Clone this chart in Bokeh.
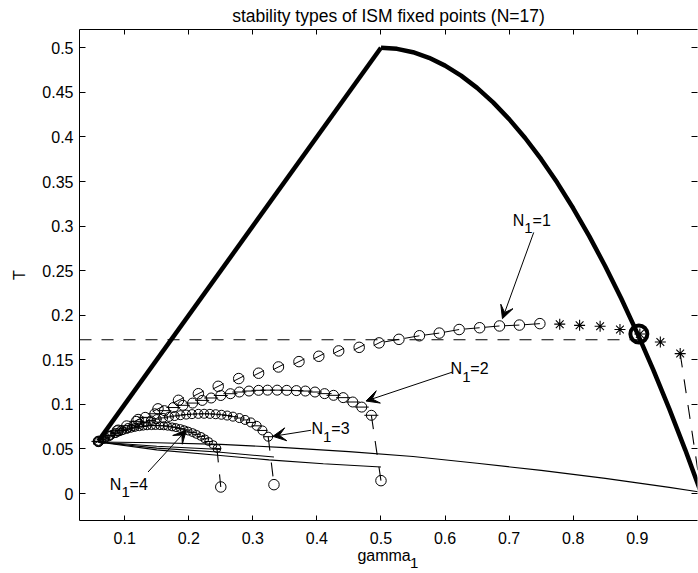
import math
from bokeh.plotting import figure
from bokeh.models import Range1d, LinearAxis, FixedTicker, Label, Arrow, VeeHead
from bokeh.embed import file_html
from bokeh.resources import INLINE

FONT = "Liberation Sans"

# ---------------- data ----------------
x_ticks = [0.1, 0.2, 0.3, 0.4, 0.5, 0.6, 0.7, 0.8, 0.9, 1.0]
x_tick_labels = ["0.1", "0.2", "0.3", "0.4", "0.5", "0.6", "0.7", "0.8", "0.9", "1"]
y_ticks = [0.0, 0.05, 0.1, 0.15, 0.2, 0.25, 0.3, 0.35, 0.4, 0.45, 0.5]
y_tick_labels = ["0", "0.05", "0.1", "0.15", "0.2", "0.25", "0.3", "0.35", "0.4", "0.45", "0.5"]

# stability boundary (thick)
bound1_g = [0.0588, 0.5]
bound1_T = [0.0588, 0.5]
bound2_g = [0.5, 0.525, 0.55, 0.575, 0.6, 0.625, 0.65, 0.675, 0.7, 0.725, 0.75,
            0.775, 0.8, 0.825, 0.85, 0.875, 0.9, 0.925, 0.95, 0.975, 1.0]
bound2_T = [0.5, 0.4988, 0.495, 0.4888, 0.48, 0.4688, 0.455, 0.4388, 0.42, 0.3988, 0.375,
            0.3488, 0.32, 0.2888, 0.255, 0.2188, 0.18, 0.1388, 0.095, 0.0488, 0.0]

# N1 = 1 branch: circles then stars
n1_g = [0.059, 0.090, 0.121, 0.152, 0.184, 0.215, 0.246, 0.278, 0.309, 0.340, 0.372, 0.403,
        0.434, 0.466, 0.497, 0.528, 0.560, 0.591, 0.622, 0.654, 0.685, 0.716, 0.748]
n1_T = [0.0585, 0.071, 0.083, 0.095, 0.1046, 0.112, 0.1203, 0.129, 0.135, 0.142, 0.148, 0.154,
        0.160, 0.164, 0.169, 0.173, 0.177, 0.180, 0.184, 0.186, 0.188, 0.189, 0.1906]
star_g = [0.779, 0.810, 0.842, 0.873, 0.904, 0.936, 0.967]
star_T = [0.190, 0.1887, 0.1876, 0.184, 0.179, 0.170, 0.157]

# N1 = 2 branch
n2_g = [0.059, 0.074, 0.088, 0.103, 0.118, 0.132, 0.147, 0.162, 0.176, 0.191, 0.206, 0.221,
        0.235, 0.250, 0.265, 0.279, 0.294, 0.309, 0.323, 0.338, 0.353, 0.368, 0.382, 0.397,
        0.412, 0.426, 0.441, 0.456, 0.470, 0.485]
n2_T = [0.0585, 0.0645, 0.0705, 0.076, 0.081, 0.0855, 0.0895, 0.093, 0.0965, 0.099, 0.1015, 0.1045,
        0.1072, 0.110, 0.112, 0.1139, 0.115, 0.1158, 0.1160, 0.1160, 0.1158, 0.1155, 0.115, 0.1139,
        0.1121, 0.1102, 0.1076, 0.1027, 0.097, 0.0878]

# N1 = 3 branch
n3_g = [0.059, 0.068, 0.077, 0.086, 0.095, 0.105, 0.114, 0.123, 0.132, 0.141, 0.150, 0.160,
        0.169, 0.178, 0.187, 0.196, 0.205, 0.215, 0.224, 0.233, 0.242, 0.251, 0.260, 0.269,
        0.279, 0.288, 0.297, 0.306, 0.315, 0.324]
n3_T = [0.0585, 0.0615, 0.065, 0.068, 0.071, 0.0735, 0.076, 0.0782, 0.0802, 0.082, 0.0835, 0.0849,
        0.086, 0.087, 0.0879, 0.0886, 0.0891, 0.0894, 0.0895, 0.0894, 0.089, 0.0884, 0.0875, 0.0863,
        0.0847, 0.0826, 0.0798, 0.076, 0.0708, 0.0638]

# N1 = 4 branch
n4_g = [0.059, 0.065, 0.071, 0.078, 0.084, 0.091, 0.097, 0.103, 0.110, 0.116, 0.123, 0.129,
        0.135, 0.142, 0.148, 0.155, 0.161, 0.167, 0.174, 0.180, 0.187, 0.193, 0.199, 0.206,
        0.212, 0.219, 0.225, 0.231, 0.238, 0.244]
n4_T = [0.0585, 0.0605, 0.063, 0.0652, 0.0672, 0.069, 0.0706, 0.072, 0.0732, 0.0742, 0.075, 0.0756,
        0.076, 0.0762, 0.0763, 0.0762, 0.076, 0.0755, 0.0748, 0.074, 0.0729, 0.0716, 0.0701, 0.0684,
        0.0664, 0.0641, 0.0614, 0.0584, 0.0549, 0.0506]

# isolated fixed points at the bottom (N1 = 4, 3, 2) and end point of N1 = 1
bottom_g = [0.25, 0.333, 0.5]
bottom_T = [0.0074, 0.010, 0.0145]
end1_g = 1.0
end1_T = 0.0

# thin solid branches
line1_g = [0.0588, 0.15, 0.25, 0.35, 0.45, 0.55, 0.65, 0.75, 0.85, 0.95, 1.0]
line1_T = [0.0578, 0.057, 0.0552, 0.0515, 0.047, 0.0415, 0.034, 0.026, 0.017, 0.007, 0.0015]
line2_g = [0.0588, 0.15, 0.245, 0.325, 0.41, 0.5]
line2_T = [0.0578, 0.049, 0.043, 0.0378, 0.0335, 0.0298]
line3_g = [0.0588, 0.15, 0.245, 0.333]
line3_T = [0.0578, 0.051, 0.0466, 0.041]
line4_g = [0.0588, 0.15, 0.25]
line4_T = [0.0578, 0.053, 0.0495]

# critical temperature and critical point
crit_T = 0.1726
crit_g = 0.9025
crit_pt_T = 0.179

# annotations
label_num = ["1", "2", "3", "4"]
label_g = [0.7057, 0.6086, 0.3916, 0.0768]
label_T = [0.3064, 0.1401, 0.0729, 0.0104]
arrow_start_g = [0.7384, 0.6117, 0.3909, 0.1365]
arrow_start_T = [0.2929, 0.1363, 0.0710, 0.0242]
arrow_end_g = [0.6896, 0.4766, 0.3313, 0.1962]
arrow_end_T = [0.1962, 0.1038, 0.0642, 0.0710]

# ---------------- figure ----------------
X0, X1 = 0.0295, 0.9940
Y0, Y1 = -0.0302, 0.5205
p = figure(width=698, height=573, output_backend="svg", toolbar_location=None,
           x_range=Range1d(X0, X1), y_range=Range1d(Y0, Y1),
           x_axis_location=None, y_axis_location=None,
           min_border_left=78, min_border_right=1, min_border_top=29, min_border_bottom=53)
p.grid.visible = False
p.outline_line_color = None
p.background_fill_color = "white"
p.border_fill_color = "white"

p.title.text = "stability types of ISM fixed points (N=17)"
p.title.align = "center"
p.title.offset = 2
p.title.standoff = 7
p.title.text_font = FONT
p.title.text_font_size = "17.5px"
p.title.text_font_style = "normal"
p.title.text_color = "black"

def style_axis(ax, show_labels, tick_len):
    ax.major_tick_in = tick_len
    ax.major_tick_out = 0
    ax.minor_tick_line_color = None
    ax.major_tick_line_color = "black"
    ax.axis_line_color = "black"
    ax.major_label_text_font = FONT
    ax.major_label_text_color = "black"
    if show_labels:
        ax.major_label_text_font_size = "16px"
    else:
        ax.major_label_text_font_size = "0px"
        ax.major_label_standoff = 0

bottom = LinearAxis(ticker=FixedTicker(ticks=x_ticks),
                    major_label_overrides=dict(zip(x_ticks, x_tick_labels)),
                    axis_label="gamma\u00a0\u00a0")
style_axis(bottom, True, 5)
bottom.major_label_standoff = 11
bottom.axis_label_standoff = 0
bottom.axis_label_text_font = FONT
bottom.axis_label_text_font_size = "16px"
bottom.axis_label_text_font_style = "normal"
bottom.axis_label_text_color = "black"
p.add_layout(bottom, "below")

left = LinearAxis(ticker=FixedTicker(ticks=y_ticks),
                  major_label_overrides=dict(zip(y_ticks, y_tick_labels)),
                  axis_label="T")
style_axis(left, True, 6)
left.major_label_standoff = 6
left.axis_label_standoff = 11
left.axis_label_text_font = FONT
left.axis_label_text_font_size = "16px"
left.axis_label_text_font_style = "normal"
left.axis_label_text_color = "black"
p.add_layout(left, "left")

top = LinearAxis(ticker=FixedTicker(ticks=x_ticks),
                 major_label_overrides={t: "" for t in x_ticks})
style_axis(top, False, 5)
p.add_layout(top, "above")

right = LinearAxis(ticker=FixedTicker(ticks=y_ticks),
                   major_label_overrides={t: "" for t in y_ticks})
style_axis(right, False, 6)
right.axis_line_color = None
p.add_layout(right, "right")

# subscript of the x label (kept in a side panel so it is not clipped to the frame)
p.add_layout(Label(x=409.5, y=-42, x_units="screen", y_units="screen", text="1",
                   text_font=FONT, text_font_size="15px", text_color="black",
                   text_baseline="alphabetic"), "left")

# pixel scales for orienting little segments
kx = 619.0 / (X1 - X0)
ky = 491.0 / (Y1 - Y0)

# thin solid branches
for gx, ty in [(line1_g, line1_T), (line2_g, line2_T), (line3_g, line3_T), (line4_g, line4_T)]:
    p.line(gx, ty, line_color="black", line_width=1.1)

# dashed lines
p.line([X0, crit_g], [crit_T, crit_T], line_color="black", line_width=1.1, line_dash="12 10")
conn = [(n4_g[-1], n4_T[-1], bottom_g[0], bottom_T[0]),
        (n3_g[-1], n3_T[-1], bottom_g[1], bottom_T[1]),
        (n2_g[-1], n2_T[-1], bottom_g[2], bottom_T[2]),
        (star_g[-1], star_T[-1], end1_g, end1_T)]
for a, b, c, d in conn:
    p.line([a, c], [b, d], line_color="black", line_width=1.1, line_dash="14 12")

# branch markers
p.scatter(n4_g, n4_T, marker="circle", size=8, fill_color=None, line_color="black", line_width=1)
p.scatter(n4_g, n4_T, marker="dash", size=8, line_color="black", line_width=1)
p.scatter(n3_g, n3_T, marker="circle", size=9, fill_color=None, line_color="black", line_width=1)
p.scatter(n3_g, n3_T, marker="dash", size=10, line_color="black", line_width=1)
p.scatter(n2_g, n2_T, marker="circle", size=10, fill_color=None, line_color="black", line_width=1)
p.scatter(n2_g, n2_T, marker="dash", size=14, line_color="black", line_width=1)

split = 15
p.scatter(n1_g, n1_T, marker="circle", size=10.5, fill_color=None, line_color="black", line_width=1)
p.scatter(n1_g[:split], n1_T[:split], marker="dash", size=12, angle=math.radians(27),
          line_color="black", line_width=1)
ray_ang = [math.pi + math.atan2((n1_T[k] - n1_T[k - 1]) * ky, (n1_g[k] - n1_g[k - 1]) * kx)
           for k in range(split, len(n1_g))]
p.ray(n1_g[split:], n1_T[split:], length=15, length_units="screen", angle=ray_ang,
      line_color="black", line_width=1)
p.scatter(star_g, star_T, marker="asterisk", size=11, line_color="black", line_width=1.1)

p.scatter(bottom_g, bottom_T, marker="circle", size=10.5, fill_color=None, line_color="black", line_width=1)

# thick boundary
p.line(bound1_g, bound1_T, line_color="black", line_width=4.5)
p.line(bound2_g, bound2_T, line_color="black", line_width=4.5)

# critical point
p.scatter([crit_g], [crit_pt_T], marker="circle", size=17, fill_color=None, line_color="black", line_width=4)

# annotations
for num, gx, ty, sg, sT, eg, eT in zip(label_num, label_g, label_T, arrow_start_g, arrow_start_T,
                                       arrow_end_g, arrow_end_T):
    p.add_layout(Arrow(x_start=sg, y_start=sT, x_end=eg, y_end=eT, line_color="black", line_width=1,
                       end=VeeHead(size=13, fill_color="black", line_color="black", line_width=1)))
    p.add_layout(Label(x=gx, y=ty, text="N", text_font=FONT, text_font_size="16px",
                       text_color="black", text_baseline="alphabetic"))
    p.add_layout(Label(x=gx, y=ty, x_offset=11.6, y_offset=-8, text="1", text_font=FONT,
                       text_font_size="15px", text_color="black", text_baseline="alphabetic"))
    p.add_layout(Label(x=gx, y=ty, x_offset=19.8, text="=" + num, text_font=FONT,
                       text_font_size="16px", text_color="black", text_baseline="alphabetic"))

open("out.html", "w").write(file_html(p, INLINE))
